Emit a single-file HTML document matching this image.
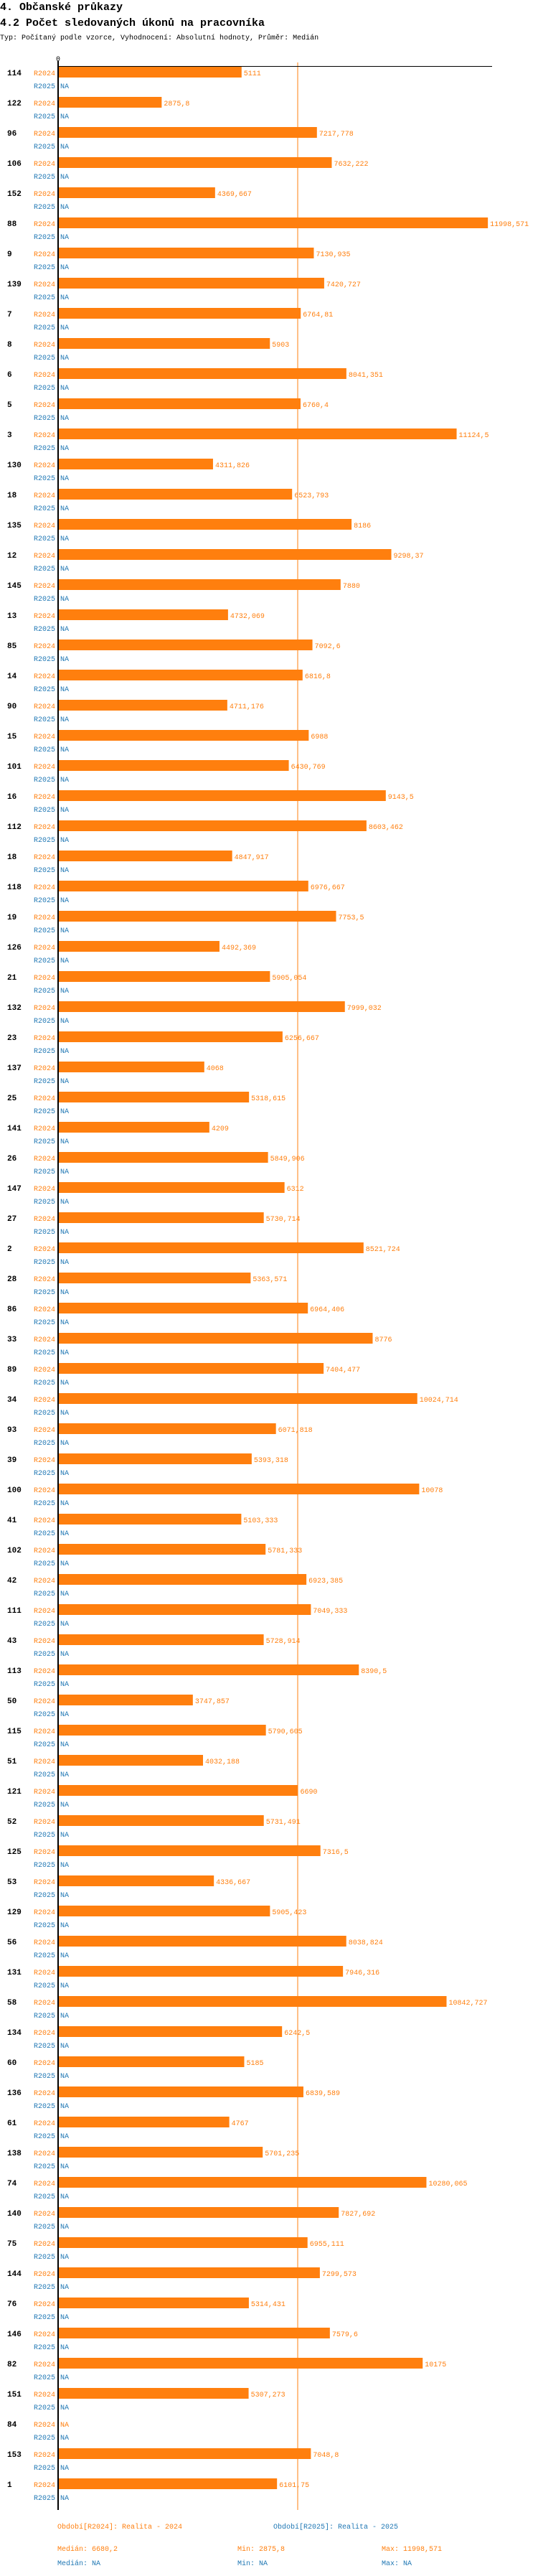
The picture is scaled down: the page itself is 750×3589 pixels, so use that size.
<!DOCTYPE html>
<html><head><meta charset="utf-8">
<style>
body{margin:0;background:#fff;width:750px;height:3584px;overflow:hidden;font-family:"Liberation Mono",monospace;}
svg text{font-family:"Liberation Mono",monospace;}
</style></head>
<body>
<svg id="chart" width="750" height="3584" xmlns="http://www.w3.org/2000/svg">
<text x="0" y="14" font-size="15" font-weight="bold">4. Občanské průkazy</text>
<text x="0" y="36" font-size="15" font-weight="bold">4.2 Počet sledovaných úkonů na pracovníka</text>
<text x="0" y="55" font-size="10">Typ: Počítaný podle vzorce, Vyhodnocení: Absolutní hodnoty, Průměr: Medián</text>
<g id="marks"></g>
<g>
<text x="80" y="3523" font-size="10" fill="#ff7f0e">Období[R2024]: Realita - 2024</text>
<text x="381" y="3523" font-size="10" fill="#1f77b4">Období[R2025]: Realita - 2025</text>
<text x="80" y="3554" font-size="10" fill="#ff7f0e">Medián: 6680,2</text>
<text x="331" y="3554" font-size="10" fill="#ff7f0e">Min: 2875,8</text>
<text x="532" y="3554" font-size="10" fill="#ff7f0e">Max: 11998,571</text>
<text x="80" y="3574" font-size="10" fill="#1f77b4">Medián: NA</text>
<text x="331" y="3574" font-size="10" fill="#1f77b4">Min: NA</text>
<text x="532" y="3574" font-size="10" fill="#1f77b4">Max: NA</text>
</g>
</svg>
<script>
const categories=["114","122","96","106","152","88","9","139","7","8","6","5","3","130","18","135","12","145","13","85","14","90","15","101","16","112","18","118","19","126","21","132","23","137","25","141","26","147","27","2","28","86","33","89","34","93","39","100","41","102","42","111","43","113","50","115","51","121","52","125","53","129","56","131","58","134","60","136","61","138","74","140","75","144","76","146","82","151","84","153","1"];
const values2024=[5111,2875.8,7217.778,7632.222,4369.667,11998.571,7130.935,7420.727,6764.81,5903,8041.351,6760.4,11124.5,4311.826,6523.793,8186,9298.37,7880,4732.069,7092.6,6816.8,4711.176,6988,6430.769,9143.5,8603.462,4847.917,6976.667,7753.5,4492.369,5905.054,7999.032,6256.667,4068,5318.615,4209,5849.906,6312,5730.714,8521.724,5363.571,6964.406,8776,7404.477,10024.714,6071.818,5393.318,10078,5103.333,5781.333,6923.385,7049.333,5728.914,8390.5,3747.857,5790.605,4032.188,6690,5731.491,7316.5,4336.667,5905.423,8038.824,7946.316,10842.727,6242.5,5185,6839.589,4767,5701.235,10280.065,7827.692,6955.111,7299.573,5314.431,7579.6,10175,5307.273,null,7048.8,6101.75];
const values2025=categories.map(()=>null);
const medianValue=6680.2;
const tickValues=[0];

(function(){
const NS="http://www.w3.org/2000/svg";
const x0=82, pxPerUnit=0.04985, plotTop=101, pitch=42;
function xScale(v){return x0+v*pxPerUnit;}
function yScale(i){return plotTop+i*pitch;}
function fmt(v){return String(v).replace('.',',');}
const g=document.getElementById('marks');
function mk(tag,attrs,txt){const e=document.createElementNS(NS,tag);for(const k in attrs)e.setAttribute(k,attrs[k]);if(txt!=null)e.textContent=txt;g.appendChild(e);return e;}
const endY=3497;
categories.forEach((c,i)=>{
  const cy=yScale(i);
  let t=mk('text',{x:10,y:cy+4,'font-size':11,'font-weight':'bold'},c);
  
  
  t=mk('text',{x:47,y:cy+4,'font-size':10,fill:'#ff7f0e'},'R2024');
  
  
  t=mk('text',{x:47,y:cy+22,'font-size':10,fill:'#1f77b4'},'R2025');
  
  
  const v=values2024[i];
  if(v!=null){
    const r=mk('rect',{x:x0,y:cy-8,width:xScale(v)-x0,height:15,fill:'#ff7f0e'});
    
    
    t=mk('text',{x:xScale(v)+3,y:cy+4,'font-size':10,fill:'#ff7f0e'},fmt(v));
  } else {
    t=mk('text',{x:84,y:cy+4,'font-size':10,fill:'#ff7f0e'},'NA');
  }
  
  
  const v2=values2025[i];
  t=mk('text',{x:v2==null?84:xScale(v2)+3,y:cy+22,'font-size':10,fill:'#1f77b4'},v2==null?'NA':fmt(v2));
  
  
});
let l=mk('line',{x1:xScale(medianValue),x2:xScale(medianValue),y1:87,y2:endY,stroke:'#ff7f0e','stroke-width':1});


l=mk('line',{x1:80,x2:686,y1:92.5,y2:92.5,stroke:'#000','stroke-width':1});


l=mk('line',{x1:81,x2:81,y1:85,y2:endY,stroke:'#000','stroke-width':2});


tickValues.forEach(tv=>{
  const t=mk('text',{x:xScale(tv)-4,y:85,'font-size':10},String(tv));
  
  
});
})();
</script>
</body></html>
